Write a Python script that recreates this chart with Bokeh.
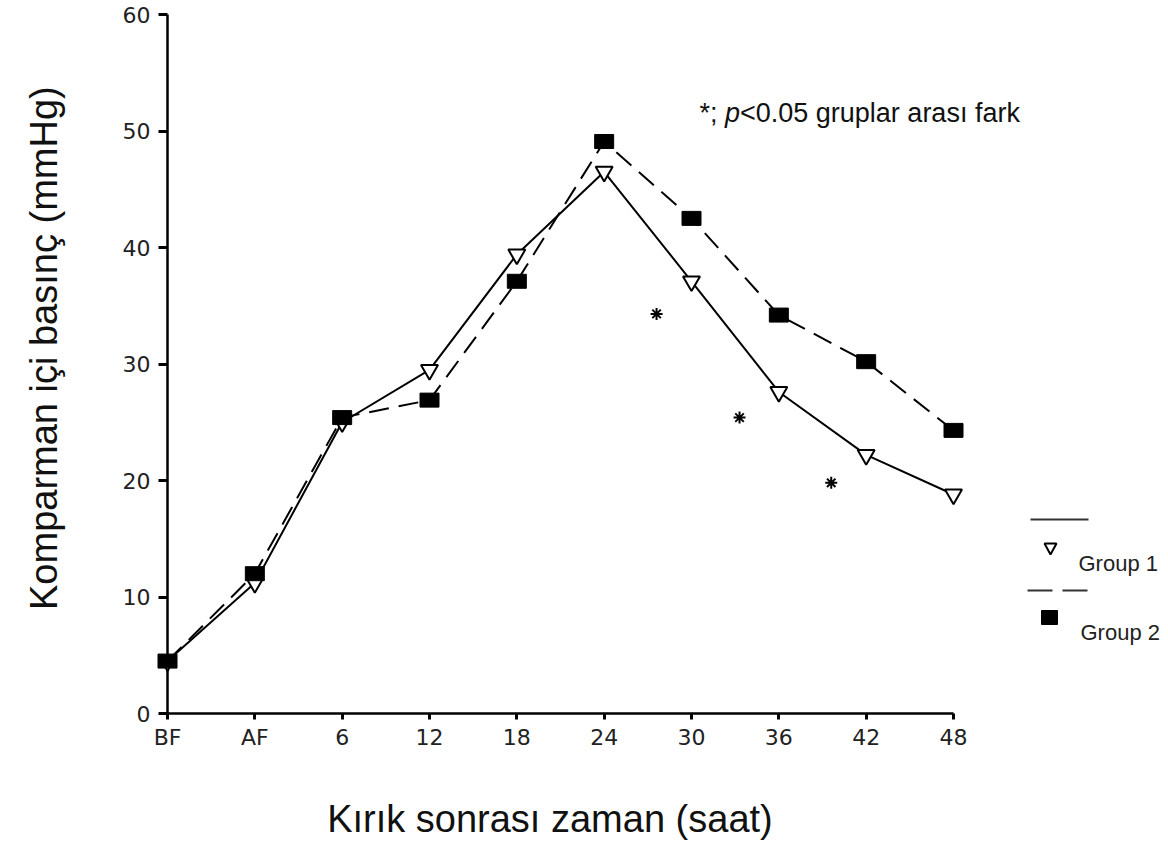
from bokeh.plotting import figure
from bokeh.models import Range1d, FixedTicker
from bokeh.embed import file_html
from bokeh.resources import INLINE
from bokeh.core.properties import value

# ---- data ----
categories = ["BF", "AF", "6", "12", "18", "24", "30", "36", "42", "48"]
x_pos = list(range(len(categories)))
group1 = [4.5, 11.2, 25.0, 29.5, 39.4, 46.5, 37.1, 27.6, 22.2, 18.8]
group2 = [4.5, 12.0, 25.4, 26.9, 37.1, 49.1, 42.5, 34.2, 30.2, 24.3]
star_x = [5.6, 6.55, 7.6]
star_y = [34.3, 25.4, 19.8]
y_ticks = [0, 10, 20, 30, 40, 50, 60]
series_names = ["Group 1", "Group 2"]
note_parts = ["*; ", "p", "<0.05 gruplar arası fark"]

TICK_FONT = "DejaVu Sans"
FONT = "Liberation Sans"

W, H = 1160, 844
LEFT, TOP, RIGHT_PX, BOTTOM_PX = 167, 14, 953, 713

p = figure(width=W, height=H, output_backend="svg", toolbar_location=None,
           x_range=Range1d(0, 9), y_range=Range1d(0, 60),
           min_border_left=LEFT, min_border_right=W - RIGHT_PX, min_border_top=TOP,
           min_border_bottom=H - BOTTOM_PX)
p.outline_line_color = None
p.xgrid.visible = False
p.ygrid.visible = False
p.background_fill_color = "white"
p.border_fill_color = "white"

# helpers: screen pixel -> data coordinates (for decorations outside the frame)
ux = (RIGHT_PX - LEFT) / 9.0
uy = (BOTTOM_PX - TOP) / 60.0
def px2x(px):
    return (px - LEFT) / ux
def py2y(py):
    return (BOTTOM_PX - py) / uy

# axes
p.xaxis.ticker = FixedTicker(ticks=x_pos)
p.xaxis.major_label_overrides = {i: c for i, c in zip(x_pos, categories)}
p.yaxis.ticker = FixedTicker(ticks=y_ticks)
for ax in (p.xaxis, p.yaxis):
    ax.axis_line_width = 2.5
    ax.axis_line_color = "black"
    ax.major_tick_line_width = 3
    ax.major_tick_line_color = "black"
    ax.major_tick_in = 0
    ax.minor_tick_line_color = None
    ax.major_label_text_font = TICK_FONT
    ax.major_label_text_font_size = "22px"
    ax.major_label_text_color = "#222222"
    ax.axis_label_text_font = FONT
    ax.axis_label_text_font_style = "normal"
    ax.axis_label_text_color = "#111111"
p.xaxis.major_tick_out = 6
p.yaxis.major_tick_out = 9
p.xaxis.major_label_standoff = 5
p.yaxis.major_label_standoff = 8
p.xaxis.axis_label = "Kırık sonrası zaman (saat)\u00a0\u00a0"
p.yaxis.axis_label = "\u00a0\u00a0\u00a0Komparman içi basınç (mmHg)"
p.xaxis.axis_label_text_font_size = "38px"
p.yaxis.axis_label_text_font_size = "38px"
p.xaxis.axis_label_standoff = 45
p.yaxis.axis_label_standoff = 55

# series
p.line(x_pos, group1, line_color="black", line_width=2, level="overlay")
p.line(x_pos, group2, line_color="black", line_width=2, line_dash="20 10", level="overlay")
p.scatter(x_pos, group1, marker="inverted_triangle", size=17, fill_color="white",
          line_color="black", line_width=2, level="overlay")
p.rect(x_pos, group2, width=19, height=14, width_units="screen", height_units="screen",
       fill_color="black", line_color="black", level="overlay")
p.scatter(star_x, star_y, marker="asterisk", size=12, line_color="black", line_width=2,
          level="overlay")

# significance note (drawn as overlay text so it may extend past the frame)
nx, ny = px2x(699), py2y(112)
offsets = [0, 25.5, 40.5]
styles = ["normal", "italic", "normal"]
for part, off, st in zip(note_parts, offsets, styles):
    p.text([nx], [ny], text=[part], x_offset=off, text_font=value(FONT),
           text_font_size="27px", text_font_style=st, text_color="#111111",
           text_baseline="alphabetic", level="overlay")

# legend (to the right of the plot area)
p.line([px2x(1030), px2x(1088)], [py2y(519)] * 2, line_color="#333333", line_width=2,
       level="overlay")
p.patch([px2x(1044), px2x(1056), px2x(1050)], [py2y(543), py2y(543), py2y(554)],
        fill_color="white", line_color="black", line_width=2, level="overlay")
p.text([px2x(1078)], [py2y(563)], text=[series_names[0]], text_font=value(FONT),
       text_font_size="22px", text_baseline="middle", text_color="#222222", level="overlay")
p.line([px2x(1027), px2x(1088)], [py2y(590)] * 2, line_color="#333333", line_width=2,
       line_dash="25 10", level="overlay")
p.rect([px2x(1049)], [py2y(617)], width=16, height=14, width_units="screen",
       height_units="screen", fill_color="black", line_color="black", level="overlay")
p.text([px2x(1080)], [py2y(632)], text=[series_names[1]], text_font=value(FONT),
       text_font_size="22px", text_baseline="middle", text_color="#222222", level="overlay")

open("out.html", "w").write(file_html(p, INLINE))
